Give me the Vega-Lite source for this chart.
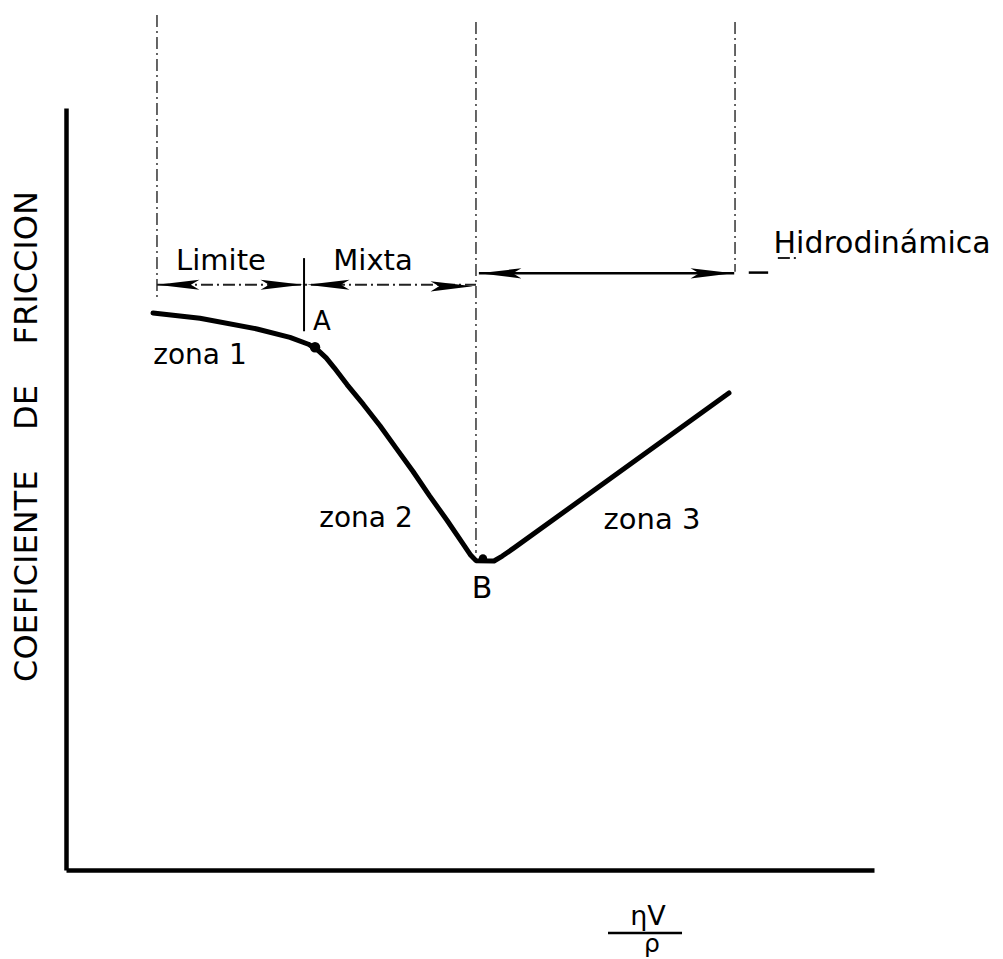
{
  "$schema": "https://vega.github.io/schema/vega-lite/v6.json",
  "width": 808,
  "height": 762,
  "autosize": {"type": "none"},
  "padding": {"left": 66, "top": 108, "right": 129, "bottom": 89},
  "background": "white",
  "config": {"view": {"stroke": null}, "font": "DejaVu Sans"},
  "datasets": {
    "curve": [
      {"x": 10.77, "y": 73.10},
      {"x": 16.58, "y": 72.40},
      {"x": 23.64, "y": 71.00},
      {"x": 27.72, "y": 69.90},
      {"x": 30.00, "y": 69.00},
      {"x": 31.20, "y": 68.20},
      {"x": 32.20, "y": 67.20},
      {"x": 33.20, "y": 65.90},
      {"x": 34.78, "y": 63.70},
      {"x": 36.80, "y": 61.10},
      {"x": 38.86, "y": 58.30},
      {"x": 40.90, "y": 55.30},
      {"x": 42.95, "y": 52.30},
      {"x": 45.00, "y": 49.10},
      {"x": 47.15, "y": 45.90},
      {"x": 49.20, "y": 42.70},
      {"x": 50.10, "y": 41.30},
      {"x": 50.74, "y": 40.60},
      {"x": 52.97, "y": 40.55},
      {"x": 54.00, "y": 41.20},
      {"x": 55.50, "y": 42.30},
      {"x": 82.05, "y": 62.60}
    ],
    "vguides": [
      {"x": 11.26, "y": 112.2, "y2": 75.2},
      {"x": 50.74, "y": 111.3, "y2": 41.6},
      {"x": 82.80, "y": 111.3, "y2": 78.5}
    ],
    "vmark": [
      {"x": 29.46, "y": 80.3, "y2": 70.7}
    ],
    "hdashed": [
      {"x": 11.26, "x2": 50.74, "y": 76.8},
      {"x": 88.1, "x2": 90.6, "y": 80.3}
    ],
    "hsolid": [
      {"x": 51.1, "x2": 82.7, "y": 78.3},
      {"x": 84.5, "x2": 86.9, "y": 78.4},
      {"x": 67.08, "x2": 76.24, "y": -8.27}
    ],
    "arrows": [
      {"x": 11.26, "y": 76.8, "angle": 0},
      {"x": 29.33, "y": 76.8, "angle": 180},
      {"x": 29.83, "y": 76.8, "angle": 0},
      {"x": 50.37, "y": 76.6, "angle": 180},
      {"x": 51.11, "y": 78.3, "angle": 0},
      {"x": 82.55, "y": 78.3, "angle": 180}
    ],
    "dots": [
      {"x": 30.82, "y": 68.6, "s": 110},
      {"x": 51.6, "y": 40.9, "s": 70}
    ],
    "labels": [
      {"x": 19.18, "y": 78.74, "text": "Limite", "size": 29},
      {"x": 38.0, "y": 78.74, "text": "Mixta", "size": 29},
      {"x": 101.0, "y": 80.97, "text": "Hidrodinámica", "size": 30},
      {"x": 31.68, "y": 70.87, "text": "A", "size": 26},
      {"x": 16.58, "y": 66.40, "text": "zona 1", "size": 28},
      {"x": 37.13, "y": 45.01, "text": "zona 2", "size": 28},
      {"x": 72.52, "y": 44.75, "text": "zona 3", "size": 29},
      {"x": 51.49, "y": 35.70, "text": "B", "size": 30},
      {"x": 72.03, "y": -7.22, "text": "ηV", "size": 27},
      {"x": 72.52, "y": -10.76, "text": "ρ", "size": 25}
    ]
  },
  "encoding": {
    "x": {
      "field": "x", "type": "quantitative",
      "scale": {"domain": [0, 100], "nice": false, "zero": false},
      "axis": {"title": null, "labels": false, "ticks": false, "grid": false, "domainColor": "black", "domainWidth": 4.5}
    },
    "y": {
      "field": "y", "type": "quantitative",
      "scale": {"domain": [0, 100], "nice": false, "zero": false},
      "axis": {
        "title": "COEFICIENTE\u00a0\u00a0\u00a0\u00a0DE\u00a0\u00a0\u00a0\u00a0FRICCION",
        "labels": false, "ticks": false, "grid": false,
        "domainColor": "black", "domainWidth": 4.5,
        "titleFont": "DejaVu Sans", "titleFontSize": 32, "titleFontWeight": "normal",
        "titleColor": "black", "titleAngle": -90, "titleAlign": "center",
        "titleBaseline": "alphabetic", "titleX": -30, "titleY": 328
      }
    }
  },
  "layer": [
    {
      "data": {"name": "vguides"},
      "mark": {"type": "rule", "color": "#333", "strokeWidth": 1.5, "strokeDash": [12, 4, 2, 4]},
      "encoding": {"y2": {"field": "y2"}}
    },
    {
      "data": {"name": "vmark"},
      "mark": {"type": "rule", "color": "black", "strokeWidth": 2},
      "encoding": {"y2": {"field": "y2"}}
    },
    {
      "data": {"name": "hdashed"},
      "mark": {"type": "rule", "color": "#222", "strokeWidth": 2, "strokeDash": [12, 4, 2, 4]},
      "encoding": {"x2": {"field": "x2"}}
    },
    {
      "data": {"name": "hsolid"},
      "mark": {"type": "rule", "color": "black", "strokeWidth": 2.5},
      "encoding": {"x2": {"field": "x2"}}
    },
    {
      "data": {"name": "arrows"},
      "mark": {"type": "point", "filled": true, "color": "black", "opacity": 1, "shape": "M0,0L2,-0.24L1.6,0L2,0.24Z", "size": 1800},
      "encoding": {"angle": {"field": "angle", "type": "quantitative", "scale": null}}
    },
    {
      "data": {"name": "curve"},
      "mark": {"type": "line", "color": "black", "strokeWidth": 5, "interpolate": "linear", "strokeCap": "round", "strokeJoin": "round"}
    },
    {
      "data": {"name": "dots"},
      "mark": {"type": "circle", "color": "black", "opacity": 1},
      "encoding": {"size": {"field": "s", "type": "quantitative", "scale": null}}
    },
    {
      "data": {"name": "labels"},
      "mark": {"type": "text", "font": "DejaVu Sans", "align": "center", "baseline": "alphabetic", "color": "black"},
      "encoding": {
        "text": {"field": "text"},
        "size": {"field": "size", "type": "quantitative", "scale": null}
      }
    }
  ]
}
